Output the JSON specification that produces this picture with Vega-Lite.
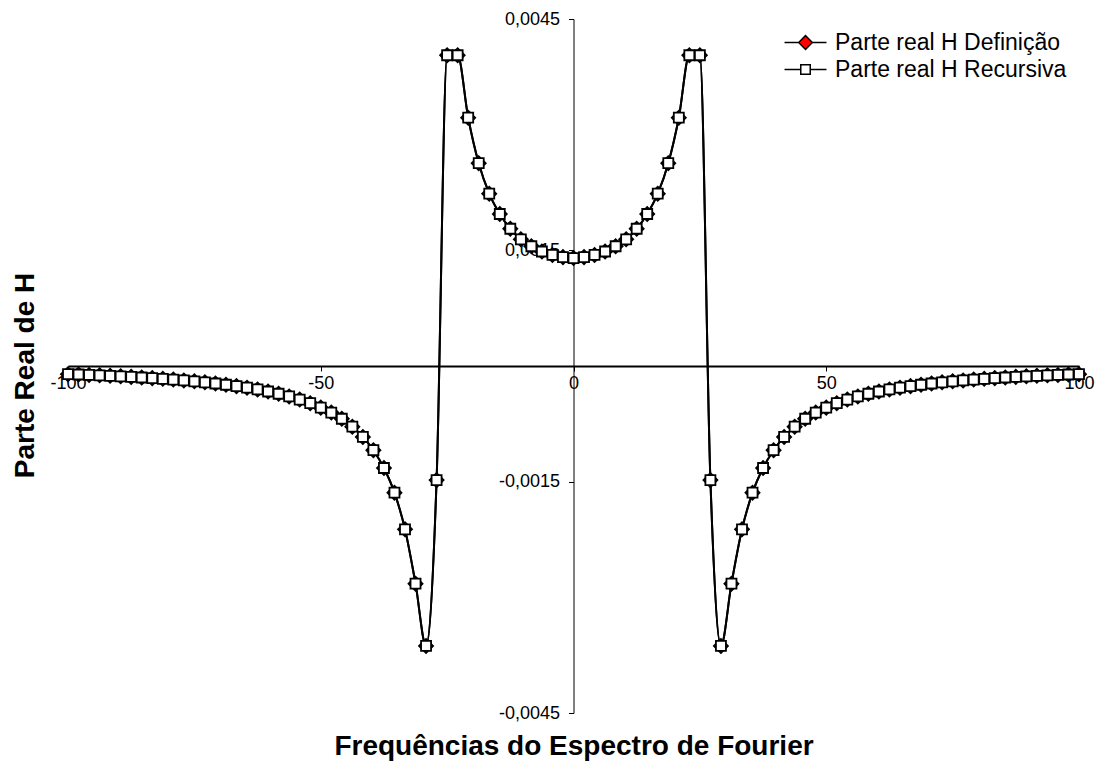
{
  "$schema": "https://vega.github.io/schema/vega-lite/v6.json",
  "width": 1011,
  "height": 694,
  "autosize": "none",
  "padding": {"left": 68, "top": 19, "right": 26, "bottom": 56},
  "background": "white",
  "config": {"view": {"stroke": null}, "font": "Liberation Sans"},
  "data": {"values": [
    {"f": -100, "D": -0.000106, "R": -0.000106},
    {"f": -97.9167, "D": -0.000110, "R": -0.000110},
    {"f": -95.8333, "D": -0.000116, "R": -0.000116},
    {"f": -93.75, "D": -0.000121, "R": -0.000121},
    {"f": -91.6667, "D": -0.000127, "R": -0.000127},
    {"f": -89.5833, "D": -0.000134, "R": -0.000134},
    {"f": -87.5, "D": -0.000141, "R": -0.000141},
    {"f": -85.4167, "D": -0.000149, "R": -0.000149},
    {"f": -83.3333, "D": -0.000157, "R": -0.000157},
    {"f": -81.25, "D": -0.000166, "R": -0.000166},
    {"f": -79.1667, "D": -0.000176, "R": -0.000176},
    {"f": -77.0833, "D": -0.000187, "R": -0.000187},
    {"f": -75, "D": -0.000199, "R": -0.000199},
    {"f": -72.9167, "D": -0.000212, "R": -0.000212},
    {"f": -70.8333, "D": -0.000227, "R": -0.000227},
    {"f": -68.75, "D": -0.000243, "R": -0.000243},
    {"f": -66.6667, "D": -0.000261, "R": -0.000261},
    {"f": -64.5833, "D": -0.000281, "R": -0.000281},
    {"f": -62.5, "D": -0.000304, "R": -0.000304},
    {"f": -60.4167, "D": -0.000331, "R": -0.000331},
    {"f": -58.3333, "D": -0.000360, "R": -0.000360},
    {"f": -56.25, "D": -0.000395, "R": -0.000395},
    {"f": -54.1667, "D": -0.000435, "R": -0.000435},
    {"f": -52.0833, "D": -0.000482, "R": -0.000482},
    {"f": -50, "D": -0.000540, "R": -0.000540},
    {"f": -47.9167, "D": -0.000604, "R": -0.000604},
    {"f": -45.8333, "D": -0.000684, "R": -0.000684},
    {"f": -43.75, "D": -0.000787, "R": -0.000787},
    {"f": -41.6667, "D": -0.000920, "R": -0.000920},
    {"f": -39.5833, "D": -0.001092, "R": -0.001092},
    {"f": -37.5, "D": -0.001323, "R": -0.001323},
    {"f": -35.4167, "D": -0.001643, "R": -0.001643},
    {"f": -33.3333, "D": -0.002118, "R": -0.002118},
    {"f": -31.25, "D": -0.002823, "R": -0.002823},
    {"f": -29.1667, "D": -0.003630, "R": -0.003630},
    {"f": -27.0833, "D": -0.001480, "R": -0.001480},
    {"f": -25, "D": 0.004030, "R": 0.004030},
    {"f": -22.9167, "D": 0.004030, "R": 0.004030},
    {"f": -20.8333, "D": 0.003220, "R": 0.003220},
    {"f": -18.75, "D": 0.002630, "R": 0.002630},
    {"f": -16.6667, "D": 0.002235, "R": 0.002235},
    {"f": -14.5833, "D": 0.001971, "R": 0.001971},
    {"f": -12.5, "D": 0.001780, "R": 0.001780},
    {"f": -10.4167, "D": 0.001643, "R": 0.001643},
    {"f": -8.3333, "D": 0.001553, "R": 0.001553},
    {"f": -6.25, "D": 0.001485, "R": 0.001485},
    {"f": -4.1667, "D": 0.001440, "R": 0.001440},
    {"f": -2.0833, "D": 0.001412, "R": 0.001412},
    {"f": 0, "D": 0.001400, "R": 0.001400},
    {"f": 2.0833, "D": 0.001412, "R": 0.001412},
    {"f": 4.1667, "D": 0.001440, "R": 0.001440},
    {"f": 6.25, "D": 0.001485, "R": 0.001485},
    {"f": 8.3333, "D": 0.001553, "R": 0.001553},
    {"f": 10.4167, "D": 0.001643, "R": 0.001643},
    {"f": 12.5, "D": 0.001780, "R": 0.001780},
    {"f": 14.5833, "D": 0.001971, "R": 0.001971},
    {"f": 16.6667, "D": 0.002235, "R": 0.002235},
    {"f": 18.75, "D": 0.002630, "R": 0.002630},
    {"f": 20.8333, "D": 0.003220, "R": 0.003220},
    {"f": 22.9167, "D": 0.004030, "R": 0.004030},
    {"f": 25, "D": 0.004030, "R": 0.004030},
    {"f": 27.0833, "D": -0.001480, "R": -0.001480},
    {"f": 29.1667, "D": -0.003630, "R": -0.003630},
    {"f": 31.25, "D": -0.002823, "R": -0.002823},
    {"f": 33.3333, "D": -0.002118, "R": -0.002118},
    {"f": 35.4167, "D": -0.001643, "R": -0.001643},
    {"f": 37.5, "D": -0.001323, "R": -0.001323},
    {"f": 39.5833, "D": -0.001092, "R": -0.001092},
    {"f": 41.6667, "D": -0.000920, "R": -0.000920},
    {"f": 43.75, "D": -0.000787, "R": -0.000787},
    {"f": 45.8333, "D": -0.000684, "R": -0.000684},
    {"f": 47.9167, "D": -0.000604, "R": -0.000604},
    {"f": 50, "D": -0.000540, "R": -0.000540},
    {"f": 52.0833, "D": -0.000482, "R": -0.000482},
    {"f": 54.1667, "D": -0.000435, "R": -0.000435},
    {"f": 56.25, "D": -0.000395, "R": -0.000395},
    {"f": 58.3333, "D": -0.000360, "R": -0.000360},
    {"f": 60.4167, "D": -0.000331, "R": -0.000331},
    {"f": 62.5, "D": -0.000304, "R": -0.000304},
    {"f": 64.5833, "D": -0.000281, "R": -0.000281},
    {"f": 66.6667, "D": -0.000261, "R": -0.000261},
    {"f": 68.75, "D": -0.000243, "R": -0.000243},
    {"f": 70.8333, "D": -0.000227, "R": -0.000227},
    {"f": 72.9167, "D": -0.000212, "R": -0.000212},
    {"f": 75, "D": -0.000199, "R": -0.000199},
    {"f": 77.0833, "D": -0.000187, "R": -0.000187},
    {"f": 79.1667, "D": -0.000176, "R": -0.000176},
    {"f": 81.25, "D": -0.000166, "R": -0.000166},
    {"f": 83.3333, "D": -0.000157, "R": -0.000157},
    {"f": 85.4167, "D": -0.000149, "R": -0.000149},
    {"f": 87.5, "D": -0.000141, "R": -0.000141},
    {"f": 89.5833, "D": -0.000134, "R": -0.000134},
    {"f": 91.6667, "D": -0.000127, "R": -0.000127},
    {"f": 93.75, "D": -0.000121, "R": -0.000121},
    {"f": 95.8333, "D": -0.000116, "R": -0.000116},
    {"f": 97.9167, "D": -0.000110, "R": -0.000110},
    {"f": 100, "D": -0.000106, "R": -0.000106}
  ]},
  "transform": [
    {"fold": ["D", "R"], "as": ["serie", "valor"]}
  ],
  "encoding": {
    "x": {
      "field": "f", "type": "quantitative",
      "scale": {"domain": [-100, 100], "nice": false, "zero": false},
      "axis": {
        "orient": "bottom", "offset": -347,
        "values": [-100, -50, 0, 50, 100],
        "grid": false,
        "domainColor": "black", "domainWidth": 2,
        "tickColor": "black", "tickSize": 5, "tickWidth": 1,
        "labelFont": "Liberation Sans", "labelFontSize": 18, "labelColor": "black", "labelPadding": 3,
        "labelExpr": "datum.value < 0 ? '-' + format(-datum.value, 'd') : format(datum.value, 'd')",
        "labelFlush": false, "labelOverlap": false,
        "title": "Frequências do Espectro de Fourier",
        "titleFont": "Liberation Sans", "titleFontSize": 28, "titleFontWeight": "bold", "titleColor": "black",
        "titleX": 505.5, "titleY": 388, "titleBaseline": "alphabetic", "titleAlign": "center"
      }
    },
    "y": {
      "field": "valor", "type": "quantitative",
      "scale": {"domain": [-0.0045, 0.0045], "nice": false},
      "axis": {
        "orient": "left", "offset": -505.5,
        "values": [-0.0045, -0.0015, 0.0015, 0.0045],
        "grid": false,
        "domainColor": "black", "domainWidth": 1,
        "tickColor": "black", "tickSize": 5, "tickWidth": 1,
        "labelFont": "Liberation Sans", "labelFontSize": 18, "labelColor": "black", "labelPadding": 9,
        "labelExpr": "datum.value < 0 ? '-' + replace(format(-datum.value, '.4f'), '.', ',') : replace(format(datum.value, '.4f'), '.', ',')",
        "labelFlush": false, "labelOverlap": false,
        "title": "Parte Real de H",
        "titleFont": "Liberation Sans", "titleFontSize": 28, "titleFontWeight": "bold", "titleColor": "black",
        "titleAngle": 270, "titleX": -540.5, "titleY": 356, "titleBaseline": "alphabetic", "titleAlign": "center"
      }
    }
  },
  "layer": [
    {
      "mark": {"type": "line", "color": "black", "strokeWidth": 2, "interpolate": "monotone"},
      "encoding": {"detail": {"field": "serie", "type": "nominal"}}
    },
    {
      "mark": {"type": "point", "filled": true, "stroke": "black", "strokeWidth": 1.8, "opacity": 1},
      "encoding": {
        "fill": {
          "field": "serie", "type": "nominal",
          "scale": {"domain": ["D", "R"], "range": ["#ff0000", "#ffffff"]},
          "legend": {
            "title": null, "orient": "none", "legendX": 715, "legendY": 12, "padding": 0,
            "labelFont": "Liberation Sans", "labelFontSize": 23, "labelColor": "black", "labelLimit": 0,
            "labelExpr": "datum.value === 'D' ? 'Parte real H Definição' : 'Parte real H Recursiva'",
            "symbolSize": 110, "symbolOffset": 11, "labelOffset": 18, "rowPadding": 3,
            "symbolStrokeColor": "black", "symbolStrokeWidth": 1.5, "symbolOpacity": 1,
            "encoding": {"symbols": {
              "shape": {"value": {"expr": "datum.value === 'D' ? 'M-4,0L-1.3,0M1.3,0L4,0M-1.3,0L0,-1.3L1.3,0L0,1.3Z' : 'M-4,0L-0.9,0M0.9,0L4,0M-0.9,-0.9L0.9,-0.9L0.9,0.9L-0.9,0.9Z'"}},
              "stroke": {"value": "black"},
              "strokeWidth": {"value": 1.5},
              "size": {"value": 110}
            }},
            "encode": {"symbols": {
              "shape": {"value": {"expr": "datum.value === 'D' ? 'M-4,0L-1.3,0M1.3,0L4,0M-1.3,0L0,-1.3L1.3,0L0,1.3Z' : 'M-4,0L-0.9,0M0.9,0L4,0M-0.9,-0.9L0.9,-0.9L0.9,0.9L-0.9,0.9Z'"}},
              "stroke": {"value": "black"},
              "strokeWidth": {"value": 1.5},
              "size": {"value": 110}
            }}
          }
        },
        "shape": {"condition": {"test": "datum.serie === 'D'", "value": "diamond"}, "value": "square"},
        "size": {"condition": {"test": "datum.serie === 'D'", "value": 196}, "value": 100},
        "order": {"field": "serie", "type": "nominal"}
      }
    }
  ]
}
